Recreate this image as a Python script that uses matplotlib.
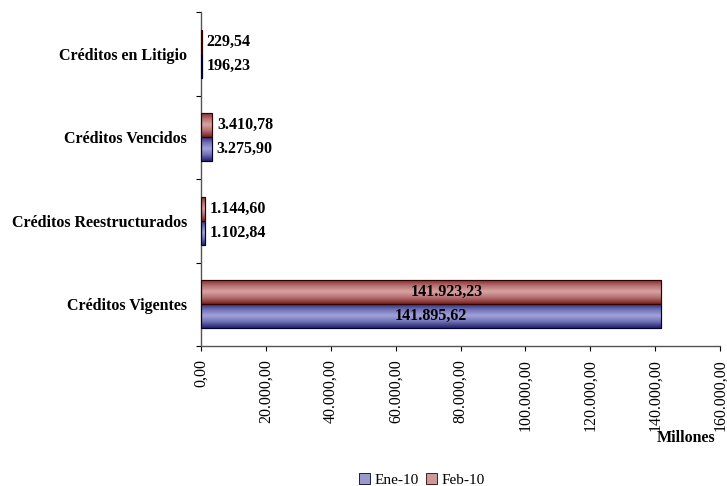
import numpy as np
import matplotlib
matplotlib.use("Agg")
import matplotlib.pyplot as plt
from matplotlib.colors import LinearSegmentedColormap
from matplotlib.patches import Patch

categories = ["Créditos Vigentes", "Créditos Reestructurados", "Créditos Vencidos", "Créditos en Litigio"]
ene_values = [141895.62, 1102.84, 3275.90, 196.23]
feb_values = [141923.23, 1144.60, 3410.78, 229.54]
series_names = ["Ene-10", "Feb-10"]
xticks = [0, 20000, 40000, 60000, 80000, 100000, 120000, 140000, 160000]

def fmt(v):
    s = f"{v:,.2f}"
    return s.replace(",", "X").replace(".", ",").replace("X", ".")

plt.rcParams['font.family'] = ['Liberation Serif', 'DejaVu Serif']
FS = 11.5

fig = plt.figure(figsize=(7.27, 4.86), dpi=100)
ax = fig.add_axes([201/727, 1 - 346/486, (720-201)/727, (346-12)/486])

y = np.arange(len(categories))
h = 0.29
ene_y = y - h/2
feb_y = y + h/2

blue_cmap = LinearSegmentedColormap.from_list("b", ["#22226a", "#7070b8", "#a3a3d8", "#7070b8", "#22226a"])
red_cmap = LinearSegmentedColormap.from_list("r", ["#762222", "#b46e6e", "#d8a3a3", "#b46e6e", "#762222"])

ax.set_xlim(0, 160000)
ax.set_ylim(-0.5, 3.5)

grad = np.linspace(0, 1, 64).reshape(-1, 1)
for vals, ys, cmap, edge, base in [(ene_values, ene_y, blue_cmap, "#000033", "#9999cc"),
                                   (feb_values, feb_y, red_cmap, "#330000", "#cc9999")]:
    bars = ax.barh(ys, vals, height=h, color=base, edgecolor=edge, linewidth=0.8, zorder=2)
    for b in bars:
        x0, y0 = b.get_x(), b.get_y()
        im = ax.imshow(grad, cmap=cmap, aspect='auto', extent=(x0, x0 + b.get_width(), y0, y0 + b.get_height()),
                       origin='lower', zorder=2.5, interpolation='bilinear')
        im.set_clip_path(b)
    ax.barh(ys, vals, height=h, fill=False, edgecolor=edge, linewidth=0.8, zorder=3)
ax.set_xlim(0, 160000)
ax.set_ylim(-0.5, 3.5)

# labels
for i, (e, f) in enumerate(zip(ene_values, feb_values)):
    if i == 0:
        ax.text(e/2, ene_y[i], fmt(e), ha='center', va='center', fontsize=FS, fontweight='bold', zorder=4)
        ax.annotate(fmt(f), (f/2, feb_y[i]), xytext=(16, 0), textcoords='offset pixels',
                    ha='center', va='center', fontsize=FS, fontweight='bold', zorder=4)
    else:
        ax.annotate(fmt(e), (e, ene_y[i]), xytext=(5, 0), textcoords='offset pixels',
                    ha='left', va='center', fontsize=FS, fontweight='bold', zorder=4)
        ax.annotate(fmt(f), (f, feb_y[i]), xytext=(5, 0), textcoords='offset pixels',
                    ha='left', va='center', fontsize=FS, fontweight='bold', zorder=4)

ax.set_yticks(y)
ax.set_yticklabels(categories, fontsize=FS, fontweight='bold')
ax.set_yticks(np.arange(-0.5, 4.0, 1.0), minor=True)
ax.tick_params(axis='y', which='major', length=0, pad=10)
ax.tick_params(axis='y', which='minor', length=3.6, width=0.8, direction='out')

ax.set_xticks(xticks)
ax.set_xticklabels([fmt(v) for v in xticks], rotation=90, fontsize=FS)
ax.tick_params(axis='x', length=3.6, width=0.8, direction='out', pad=6)

for s in ['top', 'right']:
    ax.spines[s].set_visible(False)
for s in ['left', 'bottom']:
    ax.spines[s].set_color('#555555')
    ax.spines[s].set_linewidth(1.0)

fig.text(686/727, 1 - 438/486, "Millones", ha='center', va='center', fontsize=FS, fontweight='bold')

handles = [Patch(facecolor="#9999cc", edgecolor="#000033", linewidth=0.6),
           Patch(facecolor="#cc9999", edgecolor="#330000", linewidth=0.6)]
fig.legend(handles, series_names, loc='center', bbox_to_anchor=(422/727, 1 - 480/486), ncol=2,
           frameon=False, fontsize=11, handlelength=0.7, handleheight=0.7, handletextpad=0.3,
           columnspacing=0.5, borderpad=0, borderaxespad=0)

fig.savefig("out.png", dpi=100)
